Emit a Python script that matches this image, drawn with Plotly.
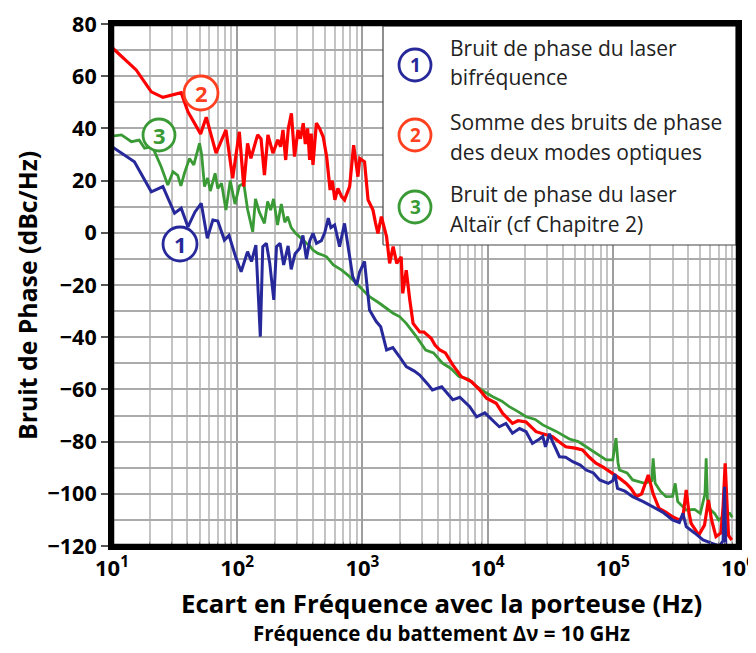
import math
import plotly.graph_objects as go

# ---------------- data ----------------
red_f = [10, 15.6, 20.6, 25.5, 35.7, 40.4, 51, 56.6, 67.8, 81.3, 92, 104, 112.8, 121, 128.6, 145.6,
         155, 165, 176, 193, 211, 222, 232, 244, 256, 271, 287, 306, 320, 337, 350, 365, 379, 390,
         403, 429, 455, 486, 518, 552, 575, 603, 637, 680, 720, 791, 851, 921, 953, 1040, 1110,
         1215, 1270, 1330, 1418, 1560, 1650, 1760, 1880, 2040, 2100, 2240, 2390, 2540, 2870, 3100,
         3540, 3800, 4150, 4600, 5270, 6160, 7430, 8650, 9800, 11700, 13200, 15800, 17500, 20300,
         24400, 28000, 33000, 37000, 42100, 50000, 57300, 65000, 73400, 85000, 99800, 113000,
         128000, 140000, 154000, 170000, 192000, 210000, 234000, 265000, 300000, 340000, 363000,
         386000, 405000, 422000, 487000, 540000, 580000, 615000, 667000, 730000, 760000, 790000,
         810000, 840000, 891000]
red_db = [71, 62.4, 54, 51.9, 53.7, 46.4, 37.9, 44.3, 30.5, 39.4, 20.9, 38.7, 17.7, 34.3, 28.5, 37.5,
          36, 22.1, 37.5, 30.5, 35.6, 33, 39.4, 27.9, 40, 45.8, 29.2, 39.4, 36, 42, 34, 40, 27.9, 38,
          26, 42, 40, 36.8, 29.2, 16.4, 20, 12.6, 17.0, 14, 12.6, 17.7, 33.6, 21.5, 28.5, 27.2, 12.6,
          8.7, 4, -0.2, 6.2, -1.5, -11.7, -5.3, -11.7, -9.2, -23.2, -14.3, -25.7, -34.7, -38, -38,
          -40.4, -43, -44.9, -46, -50.6, -55.1, -57, -60.2, -63.4, -65.3, -69.2, -73, -72, -72.5,
          -76.2, -77, -78.1, -80, -82, -82.5, -83.2, -86, -88.3, -90, -92.1, -94,
          -96, -98, -101.1, -100, -92.8, -100, -105.6, -107, -108.8, -110, -109,
          -98.5, -107, -111.3, -115.8, -112, -102.4, -110, -116.4, -115, -105, -88.3,
          -100, -116, -117.7]

blue_f = [10, 15.1, 20.6, 25.5, 31.6, 35.7, 40.4, 46, 51.6, 57.7, 63.9, 70, 79, 86, 98, 107.5, 121,
          130, 141, 153, 160, 171, 182, 196, 206, 220, 235, 255, 270, 290, 316, 335, 357, 380, 403,
          430, 470, 500, 534, 560, 600, 657, 720, 770, 837, 900, 950, 1040, 1140, 1290, 1400, 1560,
          1750, 1980, 2240, 2600, 2870, 3330, 3620, 4300, 5270, 6000, 7200, 8160, 9500, 12400,
          14000, 15800, 18000, 20300, 22800, 26000, 27600, 29000, 31200, 33000, 37500, 42000,
          47900, 55000, 61300, 70000, 78500, 92000, 100000, 104000, 109000, 125000, 144000,
          175000, 209000, 250000, 300000, 340000, 363000, 386000, 450000, 526000, 620000, 710000,
          760000, 780000, 800000, 900000]
blue_db = [33, 27.2, 15.7, 17.7, 7.5, 9.4, 2.3, 8, 11.3, -2.1, 4.9, 4.5, -2.8, -1, -9.8, -14.9, -7.2,
           -11, -4.7, -39.8, -5.3, -4, -11.7, -25.7, -5.3, -4, -12.3, -5, -14, -8, -5.9, -1, -10, -3,
           -0.2, -4, -3, 0, 5.6, 2, 3, -5.3, 3.6, -5, -16.8, -20, -15, -11, -29.6, -34, -36, -44.9,
           -44, -47.5, -51.3, -53, -54.5, -58, -60.2, -59, -64, -63, -66.6, -70.5, -69, -74.3,
           -73, -76.8, -75, -76.2, -80.7, -79, -78, -82, -77, -80, -85.8, -86,
           -87.7, -89, -90.9, -92, -94.7, -96, -95, -92.4, -97.9, -99, -101.1,
           -103, -105, -107, -110, -111, -107.5, -112.6, -115, -117.7, -119, -120,
           -118, -97.3, -121, -122]

green_f = [10, 11.9, 14.3, 16.5, 18.2, 21, 24.7, 27.9, 30.7, 33.5, 35.5, 38, 41.6, 45, 50, 52, 54.8,
           58, 61, 66.6, 70, 75, 81.3, 88, 96, 104, 112.8, 121, 133, 140, 150, 165, 175, 185, 195,
           210, 225, 240, 253, 270, 293, 316, 340, 357, 380, 403, 441, 480, 518, 586, 684, 791, 953,
           1140, 1370, 1760, 1980, 2240, 2700, 3200, 3700, 4380, 5100, 5900, 7000, 8160, 9500,
           11000, 13000, 14900, 17500, 20300, 24000, 27600, 35000, 45000, 53000, 61300, 75000,
           88500, 100000, 106000, 110000, 113000, 130000, 144000, 180000, 205000, 210000, 218000,
           240000, 266000, 300000, 315000, 330000, 386000, 450000, 500000, 545000, 557000, 570000,
           600000, 650000, 700000, 800000, 860000, 900000]
green_db = [37, 37.5, 34.9, 35.5, 32.4, 33, 25.3, 18.3, 23.4, 22, 18, 23, 28.5, 26, 34.3, 30, 17.7,
            21, 16, 22.8, 17, 19, 8.7, 20, 11, 18, 19, 9, 0.4, 13, 8, 3.6, 12, 8.7, 13,
            3, 11, 4, 6.2, 2, -0.2, -1.5, -3, -4, -5, -6.6, -7.9, -8.5, -9.2, -12.3, -14.3, -16.8, -20.6,
            -24.5, -27, -30.8, -32.1, -34.7, -39.8, -44.9, -46, -50, -52, -55.1, -56, -58.9, -61,
            -62.8, -64.5, -66.6, -68.5, -70.5, -71.5, -73.6, -76, -79, -80, -82, -85,
            -87, -87, -78.7, -88, -90.9, -92, -94.7, -96, -95, -86.4, -96,
            -99, -101.1, -101, -96, -103, -106.2, -106, -107.5, -100, -86.4, -102,
            -106, -107.5, -110, -108, -107.5, -109]

x_tick_vals = [10, 100, 1000, 10000, 100000, 1000000]
x_tick_text = ["10<sup>1</sup>", "10<sup>2</sup>", "10<sup>3</sup>", "10<sup>4</sup>",
               "10<sup>5</sup>", "10<sup>6</sup>"]
y_tick_vals = [-120, -100, -80, -60, -40, -20, 0, 20, 40, 60, 80]

legend_lines = [
    ("1", ["Bruit de phase du laser", "bifréquence"]),
    ("2", ["Somme des bruits de phase", "des deux modes optiques"]),
    ("3", ["Bruit de phase du laser", "Altaïr (cf Chapitre 2)"]),
]

# ---------------- styling ----------------
BLUE = "#27299A"
RED = "#FF0000"
GREEN = "#3A9A35"
CIRC = {"1": "#27299A", "2": "#FF4020", "3": "#3A9A35"}
FONT = "Open Sans"

XR = [1, 6]
YR = [-120, 80]

OFF = 8  # page body margin of the saved html
W, H = 756 - OFF, 653 - OFF
PLOT_X0, PLOT_X1, PLOT_Y0, PLOT_Y1 = 112, 738, 24, 546   # page pixels of the plot area
L, T = PLOT_X0 - OFF, PLOT_Y0 - OFF
R, B = W - (PLOT_X1 - OFF), H - (PLOT_Y1 - OFF)
PW, PH = W - L - R, H - T - B


def px2paper(px, py):
    """page pixel -> paper coordinates"""
    return (px - PLOT_X0) / PW, (PLOT_Y1 - py) / PH


def px2data(px, py):
    """page pixel -> axis coordinates (for the legend panel background)"""
    fx, fy = px2paper(px, py)
    return 10 ** (XR[0] + fx * (XR[1] - XR[0])), YR[0] + fy * (YR[1] - YR[0])


fig = go.Figure()

# legend panel: white box drawn above the grid but beneath the curves
bx0, by0 = px2data(383, 245)
bx1, by1 = px2data(736, 26)
fig.add_trace(go.Scatter(x=[bx0, bx1, bx1, bx0, bx0], y=[by0, by0, by1, by1, by0], mode="lines",
                         fill="toself", fillcolor="white", line=dict(color="#444", width=1.2),
                         hoverinfo="skip"))

fig.add_trace(go.Scatter(x=green_f, y=green_db, mode="lines", line=dict(color=GREEN, width=2.8)))
fig.add_trace(go.Scatter(x=red_f, y=red_db, mode="lines", line=dict(color=RED, width=3.2)))
fig.add_trace(go.Scatter(x=blue_f, y=blue_db, mode="lines", line=dict(color=BLUE, width=3)))

minor_x = [m * 10 ** e for e in range(1, 6) for m in range(2, 10)]

fig.update_xaxes(
    type="log", range=XR,
    tickvals=x_tick_vals, ticktext=x_tick_text,
    tickfont=dict(family=FONT, size=22, color="black", weight="bold"),
    showgrid=True, gridcolor="#9E9E9E", gridwidth=1.5,
    minor=dict(tickvals=minor_x, showgrid=True, gridcolor="#C4C4C4", gridwidth=1.5,
               ticks="inside", ticklen=4, tickcolor="#888"),
    showline=True, linecolor="black", linewidth=4, mirror=True,
    ticks="", zeroline=False,
)
fig.update_yaxes(
    range=YR, tickvals=y_tick_vals,
    tickfont=dict(family=FONT, size=21.5, color="black", weight="bold"),
    showgrid=True, gridcolor="#ABABAB", gridwidth=1.5,
    minor=dict(dtick=10, showgrid=True, gridcolor="#ABABAB", gridwidth=1.5),
    showline=True, linecolor="black", linewidth=4, mirror=True,
    ticks="outside", ticklen=7, tickwidth=1.5, tickcolor="#555", zeroline=False,
)

shapes = []
annotations = []

# thick frame
shapes.append(dict(type="rect", xref="paper", yref="paper", x0=0, y0=0, x1=1, y1=1,
                   line=dict(color="black", width=4.5), layer="above"))


def circle(cx, cy, r, key, size=20):
    a0, b0 = px2paper(cx - r, cy + r)
    a1, b1 = px2paper(cx + r, cy - r)
    shapes.append(dict(type="circle", xref="paper", yref="paper", x0=a0, y0=b0, x1=a1, y1=b1,
                       fillcolor="white", line=dict(color=CIRC[key], width=2.8), layer="above"))
    ax, ay = px2paper(cx, cy)
    annotations.append(dict(x=ax, y=ay, xref="paper", yref="paper", text=f"<b>{key}</b>",
                            showarrow=False, xanchor="center", yanchor="middle",
                            font=dict(family=FONT, size=size, color=CIRC[key])))


# legend entries
legend_cy = [65, 135, 207]
line_py = [(48, 77), (122, 152), (194, 224)]
for (key, lines), cy, lp in zip(legend_lines, legend_cy, line_py):
    circle(415, cy, 16, key, 19)
    for txt, py in zip(lines, lp):
        ax, ay = px2paper(448, py)
        annotations.append(dict(x=ax, y=ay, xref="paper", yref="paper", text=txt, showarrow=False,
                                xanchor="left", yanchor="middle",
                                font=dict(family=FONT, size=21, color="#222")))

# in-plot labels
circle(180, 244, 17, "1", 22)
circle(201, 93, 17, "2", 22)
circle(159, 135, 16, "3", 22)

# titles
ax, ay = px2paper(441, 603)
annotations.append(dict(x=ax, y=ay, xref="paper", yref="paper",
                        text="<b>Ecart en Fréquence avec la porteuse (Hz)</b>", showarrow=False,
                        xanchor="center", yanchor="middle",
                        font=dict(family=FONT, size=25.8, color="black")))
ax, ay = px2paper(441, 633)
annotations.append(dict(x=ax, y=ay, xref="paper", yref="paper",
                        text="<b>Fréquence du battement Δν = 10 GHz</b>", showarrow=False,
                        xanchor="center", yanchor="middle",
                        font=dict(family=FONT, size=20.5, color="black")))
ax, ay = px2paper(27, 296)
annotations.append(dict(x=ax, y=ay, xref="paper", yref="paper",
                        text="<b>Bruit de Phase (dBc/Hz)</b>", showarrow=False, textangle=-90,
                        xanchor="center", yanchor="middle",
                        font=dict(family=FONT, size=24.8, color="black")))

fig.update_layout(
    width=W, height=H, margin=dict(l=L, r=R, t=T, b=B, autoexpand=False),
    paper_bgcolor="white", plot_bgcolor="white",
    showlegend=False, shapes=shapes, annotations=annotations,
)

fig.write_html("out.html")
